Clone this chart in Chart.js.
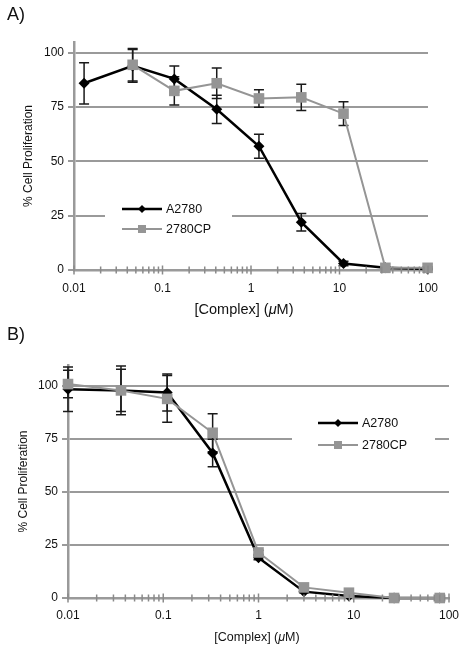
<!DOCTYPE html>
<html>
<head>
<meta charset="utf-8">
<script src="https://cdn.jsdelivr.net/npm/chart.js@4"></script>
<style>
  body { margin: 0; background: #fff; font-family: "Liberation Sans", Arial, sans-serif; }
  .panel { position: absolute; left: 0; width: 466px; height: 325px; }
  .tag { position: absolute; left: 7px; font-size: 18px; line-height: 18px; color: #111; }
</style>
</head>
<body>
<div class="panel" style="top:0"><canvas id="chartA" width="466" height="325"></canvas></div>
<div class="panel" style="top:325px"><canvas id="chartB" width="466" height="325"></canvas></div>
<div class="tag" style="top:5px">A)</div>
<div class="tag" style="top:325px">B)</div>
<script>
// panel A
const concA1 = [0.013, 0.046, 0.136, 0.41, 1.23, 3.7, 11.1, 33, 99];
const a2780A = [86, 94, 88, 74, 57, 22, 3, 1, 0.5];
const a2780AErr = [9.5, 7.5, 6, 6.5, 5.5, 4, 1, 0.5, 0.5];
const concA2 = [0.046, 0.136, 0.41, 1.23, 3.7, 11.1, 33, 99];
const cpA = [94.5, 82.5, 86, 79, 79.5, 72, 1, 1];
const cpAErr = [7.5, 6.5, 7, 4, 6, 5.5, 0.5, 0.5];

// panel B
const concB = [0.01, 0.036, 0.11, 0.33, 1, 3, 8.9, 26.5, 80];
const a2780B = [98.5, 98, 97, 68.5, 19, 3, 1, 0, 0];
const a2780BErr = [10.5, 11.5, 8.7, 6.5, 1, 0.5, 0.5, 0, 0];
const cpB = [101, 98, 94, 78, 21.5, 5, 2.5, 0, 0];
const cpBErr = [6.5, 10, 11, 9, 1, 1, 0.5, 0, 0];

const seriesNames = ["A2780", "2780CP"];
const yTickValues = [0, 25, 50, 75, 100];
const xDecades = [0.01, 0.1, 1, 10, 100];
const yTitle = "% Cell Proliferation";

const FONT = '"Liberation Sans", Arial, sans-serif';
const GRID = "#9a9a9a";
const GRAY = "#959595";

// every 1..9 step inside each decade, plus the last decade
const xTickValues = [];
xDecades.slice(0, -1).forEach((d) => {
  for (let m = 1; m <= 9; m++) xTickValues.push(m * d);
});
xTickValues.push(xDecades[xDecades.length - 1]);

function pts(xs, ys) {
  return xs.map((x, i) => ({ x: x, y: ys[i] }));
}

function diamond(ctx, x, y, r) {
  ctx.beginPath();
  ctx.moveTo(x, y - r);
  ctx.lineTo(x + r, y);
  ctx.lineTo(x, y + r);
  ctx.lineTo(x - r, y);
  ctx.closePath();
  ctx.fill();
}

const errorBars = {
  id: "errorBars",
  beforeDatasetsDraw(chart) {
    const ctx = chart.ctx;
    const ys = chart.scales.y;
    ctx.save();
    ctx.strokeStyle = "#1a1a1a";
    ctx.lineWidth = 1.5;
    chart.data.datasets.forEach((ds, i) => {
      chart.getDatasetMeta(i).data.forEach((pt, j) => {
        const e = ds.errors[j];
        if (!e) return;
        const v = ds.data[j].y;
        const top = ys.getPixelForValue(v + e);
        const bot = ys.getPixelForValue(v - e);
        ctx.beginPath();
        ctx.moveTo(pt.x, top);
        ctx.lineTo(pt.x, bot);
        ctx.moveTo(pt.x - 5, top);
        ctx.lineTo(pt.x + 5, top);
        ctx.moveTo(pt.x - 5, bot);
        ctx.lineTo(pt.x + 5, bot);
        ctx.stroke();
      });
    });
    ctx.restore();
  },
};

// x axis tick marks cross the axis line
const crossTicks = {
  id: "crossTicks",
  afterDraw(chart) {
    const ctx = chart.ctx;
    const xs = chart.scales.x;
    const y0 = chart.chartArea.bottom;
    ctx.save();
    ctx.strokeStyle = "#8a8a8a";
    ctx.lineWidth = 1.5;
    xs.ticks.forEach((t) => {
      const px = xs.getPixelForValue(t.value);
      const h = xDecades.includes(t.value) ? 4.5 : 3.5;
      ctx.beginPath();
      ctx.moveTo(px, y0 - h);
      ctx.lineTo(px, y0 + h);
      ctx.stroke();
    });
    ctx.restore();
  },
};

const boxLegend = {
  id: "boxLegend",
  afterDraw(chart) {
    const o = chart.options.plugins.boxLegend;
    const ctx = chart.ctx;
    ctx.save();
    ctx.fillStyle = "#fff";
    ctx.fillRect(o.box[0], o.box[1], o.box[2], o.box[3]);
    const cx = (o.x0 + o.x1) / 2;
    // black
    ctx.strokeStyle = "#000";
    ctx.lineWidth = 2.5;
    ctx.beginPath();
    ctx.moveTo(o.x0, o.rows[0]);
    ctx.lineTo(o.x1, o.rows[0]);
    ctx.stroke();
    ctx.fillStyle = "#000";
    diamond(ctx, cx, o.rows[0], 4);
    // gray
    ctx.strokeStyle = GRAY;
    ctx.lineWidth = 2;
    ctx.beginPath();
    ctx.moveTo(o.x0, o.rows[1]);
    ctx.lineTo(o.x1, o.rows[1]);
    ctx.stroke();
    ctx.fillStyle = GRAY;
    ctx.fillRect(cx - 4, o.rows[1] - 4, 8, 8);
    ctx.fillStyle = "#111";
    ctx.font = "12.5px " + FONT;
    ctx.textBaseline = "middle";
    ctx.textAlign = "left";
    ctx.fillText(seriesNames[0], o.x1 + 4, o.rows[0] + 1);
    ctx.fillText(seriesNames[1], o.x1 + 4, o.rows[1] + 1);
    ctx.restore();
  },
};

const xTitle = {
  id: "xTitle",
  afterDraw(chart) {
    const o = chart.options.plugins.xTitle;
    const ctx = chart.ctx;
    const parts = [["[Complex] (", ""], ["\u03bc", "italic "], ["M)", ""]];
    ctx.save();
    ctx.fillStyle = "#111";
    ctx.textBaseline = "middle";
    ctx.textAlign = "left";
    let w = 0;
    parts.forEach((p) => {
      ctx.font = p[1] + o.size + "px " + FONT;
      w += ctx.measureText(p[0]).width;
    });
    let x = o.cx - w / 2;
    parts.forEach((p) => {
      ctx.font = p[1] + o.size + "px " + FONT;
      ctx.fillText(p[0], x, o.cy);
      x += ctx.measureText(p[0]).width;
    });
    ctx.restore();
  },
};

function makeChart(id, cfg) {
  return new Chart(document.getElementById(id), {
    type: "line",
    data: {
      datasets: [
        {
          label: seriesNames[0],
          data: pts(cfg.blackX, cfg.blackY),
          errors: cfg.blackErr,
          borderColor: "#000",
          backgroundColor: "#000",
          borderWidth: 2.5,
          pointStyle: "rectRot",
          pointRadius: 5.5,
          pointBorderWidth: 0,
          order: 1,
          clip: false,
        },
        {
          label: seriesNames[1],
          data: pts(cfg.grayX, cfg.grayY),
          errors: cfg.grayErr,
          borderColor: GRAY,
          backgroundColor: GRAY,
          borderWidth: 2,
          pointStyle: "rect",
          pointRadius: 7.5,
          pointBorderWidth: 0,
          order: 0,
          clip: false,
        },
      ],
    },
    options: {
      responsive: false,
      animation: false,
      events: [],
      layout: { padding: cfg.padding },
      scales: {
        x: {
          type: "logarithmic",
          min: 0.01,
          max: 100,
          afterBuildTicks: (scale) => {
            scale.ticks = xTickValues.map((v) => ({ value: v }));
          },
          afterFit: (scale) => {
            scale.height = cfg.xHeight;
          },
          grid: { display: false, tickLength: cfg.tickGap },
          border: { display: true, color: GRID, width: 2.5 },
          ticks: {
            autoSkip: false,
            maxRotation: 0,
            padding: 3,
            color: "#111",
            font: { family: FONT, size: 12 },
            callback: (v) => (xDecades.includes(v) ? String(v) : ""),
          },
        },
        y: {
          min: 0,
          max: cfg.yMax,
          afterBuildTicks: (scale) => {
            scale.ticks = yTickValues.map((v) => ({ value: v }));
          },
          afterFit: (scale) => {
            scale.width = cfg.yWidth;
          },
          grid: { color: GRID, lineWidth: 2, tickLength: 6 },
          border: { display: true, color: GRID, width: 2.5 },
          ticks: {
            padding: 4,
            color: "#111",
            font: { family: FONT, size: 12 },
          },
          title: {
            display: true,
            text: yTitle,
            color: "#111",
            font: { family: FONT, size: 12 },
          },
        },
      },
      plugins: {
        legend: { display: false },
        tooltip: { enabled: false },
        boxLegend: cfg.legend,
        xTitle: cfg.xTitle,
      },
    },
    plugins: [errorBars, crossTicks, boxLegend, xTitle],
  });
}

makeChart("chartA", {
  blackX: concA1, blackY: a2780A, blackErr: a2780AErr,
  grayX: concA2, grayY: cpA, grayErr: cpAErr,
  padding: { left: 17, right: 38, top: 42, bottom: 0 },
  yWidth: 57, xHeight: 55, yMax: 105, tickGap: 8,
  legend: { box: [105, 198, 127, 42], x0: 122, x1: 162, rows: [209, 229] },
  xTitle: { cx: 244, cy: 310, size: 14.5 },
});

makeChart("chartB", {
  blackX: concB, blackY: a2780B, blackErr: a2780BErr,
  grayX: concB, grayY: cpB, grayErr: cpBErr,
  padding: { left: 12, right: 17, top: 40, bottom: 0 },
  yWidth: 56, xHeight: 52, yMax: 110, tickGap: 7,
  legend: { box: [292, 85, 143, 48], x0: 318, x1: 358, rows: [98, 120] },
  xTitle: { cx: 257, cy: 313, size: 12.5 },
});
</script>
</body>
</html>
